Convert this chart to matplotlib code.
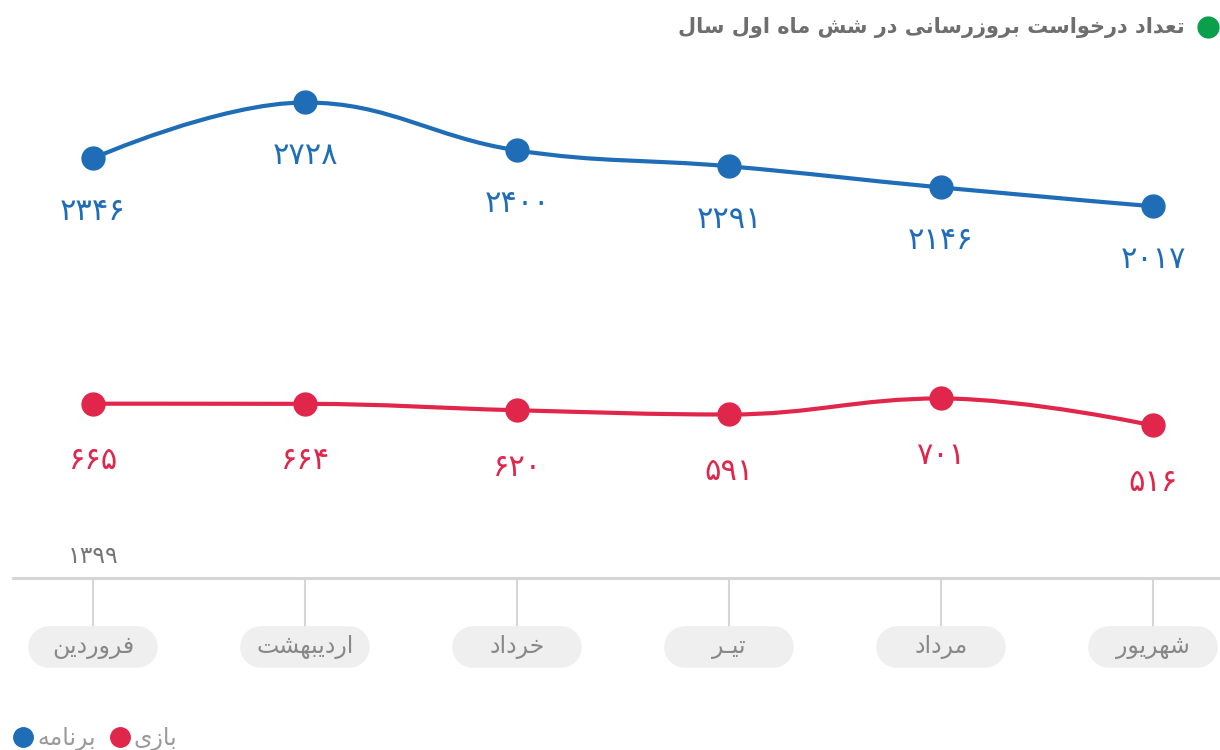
import matplotlib
matplotlib.use("Agg")
import matplotlib.pyplot as plt
from matplotlib.path import Path
from matplotlib.patches import PathPatch
from matplotlib.lines import Line2D

plt.rcParams['font.family'] = ['DejaVu Sans']

# داده‌ها
months = ["فروردین", "اردیبهشت", "خرداد", "تیـر", "مرداد", "شهریور"]
apps = [2346, 2728, 2400, 2291, 2146, 2017]    # برنامه
games = [665, 664, 620, 591, 701, 516]         # بازی
year_label = "1399"
title = "تعداد درخواست بروزرسانی در شش ماه اول سال"
series_names = ["برنامه", "بازی"]

BLUE = "#1f6db6"
RED = "#e0264b"
GREEN = "#0aa04b"
GREY_TXT = "#757575"

# شکل حروف (isolated, final, initial, medial) - چون matplotlib خودش حروف رو نمیچسبونه
FORMS = {
    'ا': ('\uFE8D', '\uFE8E', None, None),
    'ب': ('\uFE8F', '\uFE90', '\uFE91', '\uFE92'),
    'ت': ('\uFE95', '\uFE96', '\uFE97', '\uFE98'),
    'خ': ('\uFEA5', '\uFEA6', '\uFEA7', '\uFEA8'),
    'د': ('\uFEA9', '\uFEAA', None, None),
    'ر': ('\uFEAD', '\uFEAE', None, None),
    'ز': ('\uFEAF', '\uFEB0', None, None),
    'س': ('\uFEB1', '\uFEB2', '\uFEB3', '\uFEB4'),
    'ش': ('\uFEB5', '\uFEB6', '\uFEB7', '\uFEB8'),
    'ع': ('\uFEC9', '\uFECA', '\uFECB', '\uFECC'),
    'ف': ('\uFED1', '\uFED2', '\uFED3', '\uFED4'),
    'ل': ('\uFEDD', '\uFEDE', '\uFEDF', '\uFEE0'),
    'م': ('\uFEE1', '\uFEE2', '\uFEE3', '\uFEE4'),
    'ن': ('\uFEE5', '\uFEE6', '\uFEE7', '\uFEE8'),
    'ه': ('\uFEE9', '\uFEEA', '\uFEEB', '\uFEEC'),
    'و': ('\uFEED', '\uFEEE', None, None),
    'ی': ('\uFEEF', '\uFEF0', '\uFEF3', '\uFEF4'),
    'ـ': ('ـ', 'ـ', 'ـ', 'ـ'),
}


def fa(s):
    out = []
    for i, ch in enumerate(s):
        if ch not in FORMS:
            out.append(ch)
            continue
        prev = s[i - 1] if i > 0 else ''
        nxt = s[i + 1] if i + 1 < len(s) else ''
        jp = prev in FORMS and FORMS[prev][2] is not None
        jn = FORMS[ch][2] is not None and nxt in FORMS
        iso, fin, ini, med = FORMS[ch]
        if jp and jn:
            out.append(med)
        elif jp:
            out.append(fin)
        elif jn:
            out.append(ini)
        else:
            out.append(iso)
    return ''.join(out)[::-1]


def fa_num(n):
    return ''.join(chr(0x06F0 + int(c)) for c in str(n))


def spline_path(xs, ys, smoothing=1.5):
    # مثل spline در highcharts
    n = len(xs)
    left = [None] * n
    right = [None] * n
    d = smoothing + 1
    for i in range(1, n - 1):
        lx = (smoothing * xs[i] + xs[i - 1]) / d
        ly = (smoothing * ys[i] + ys[i - 1]) / d
        rx = (smoothing * xs[i] + xs[i + 1]) / d
        ry = (smoothing * ys[i] + ys[i + 1]) / d
        corr = (ry - ly) * (rx - xs[i]) / (rx - lx) + ys[i] - ry
        ly += corr
        ry += corr
        if ly > ys[i - 1] and ly > ys[i]:
            ly = max(ys[i - 1], ys[i]); ry = 2 * ys[i] - ly
        elif ly < ys[i - 1] and ly < ys[i]:
            ly = min(ys[i - 1], ys[i]); ry = 2 * ys[i] - ly
        if ry > ys[i + 1] and ry > ys[i]:
            ry = max(ys[i + 1], ys[i]); ly = 2 * ys[i] - ry
        elif ry < ys[i + 1] and ry < ys[i]:
            ry = min(ys[i + 1], ys[i]); ly = 2 * ys[i] - ry
        left[i] = (lx, ly)
        right[i] = (rx, ry)
    verts = [(xs[0], ys[0])]
    codes = [Path.MOVETO]
    for i in range(1, n):
        c1 = right[i - 1] or (xs[i - 1], ys[i - 1])
        c2 = left[i] or (xs[i], ys[i])
        verts += [c1, c2, (xs[i], ys[i])]
        codes += [Path.CURVE4] * 3
    return Path(verts, codes)


fig = plt.figure(figsize=(12.2, 7.5), dpi=100)
ax = fig.add_axes([0, 0, 1, 1])
ax.set_axis_off()
ax.set_xlim(-0.439, 5.316)
ax.set_ylim(-1707, 3430)

x = list(range(len(months)))
xt = ax.get_xaxis_transform()

for vals, col, dy in [(apps, BLUE, -38), (games, RED, -41)]:
    ax.add_patch(PathPatch(spline_path(x, vals), fill=False, edgecolor=col,
                           lw=3, capstyle='round', zorder=3))
    ax.plot(x, vals, 'o', ms=16.5, color=col, zorder=4)
    for xi, v in zip(x, vals):
        ax.annotate(fa_num(v), (xi, v), xytext=(0, dy), textcoords='offset points',
                    ha='center', va='center', fontsize=22, color=col, zorder=5)

# محور پایین
base_y = 1 - 578 / 750
ax.plot([13 / 1220, 1], [base_y, base_y], color="#d6d6d6", lw=2.2,
        transform=ax.transAxes, zorder=1)
box_y = 1 - 647 / 750
ax.vlines(x, 1 - 627 / 750, base_y, color="#d6d6d6", lw=1.5, transform=xt, zorder=1)
for xi, m in zip(x, months):
    ax.plot([xi - 0.207, xi + 0.207], [box_y, box_y], color="#efefef", lw=30,
            solid_capstyle='round', transform=xt, zorder=2)
    ax.text(xi, box_y, fa(m), ha='center', va='center', fontsize=17,
            color="#888888", transform=xt, zorder=3)

ax.text(0, 1 - 556 / 750, fa_num(year_label), ha='center', va='center', fontsize=17,
        color=GREY_TXT, transform=xt)

# عنوان
fig.text(1185 / 1220, 1 - 28 / 750, fa(title), ha='right', va='center',
         fontsize=15, fontweight='bold', color="#6e6e6e")
ax.plot([1208 / 1220], [1 - 27 / 750], 'o', ms=15, color=GREEN, transform=ax.transAxes)

handles = [Line2D([], [], ls='none', marker='o', ms=14, color=BLUE),
           Line2D([], [], ls='none', marker='o', ms=14, color=RED)]
fig.legend(handles, [fa(s) for s in series_names], loc='lower left',
           bbox_to_anchor=(-0.008, -0.030), ncol=2, frameon=False, fontsize=17,
           handletextpad=0.1, columnspacing=0.5, labelcolor="#9a9a9a",
           handlelength=1.0)

fig.savefig("out.png", dpi=100)
